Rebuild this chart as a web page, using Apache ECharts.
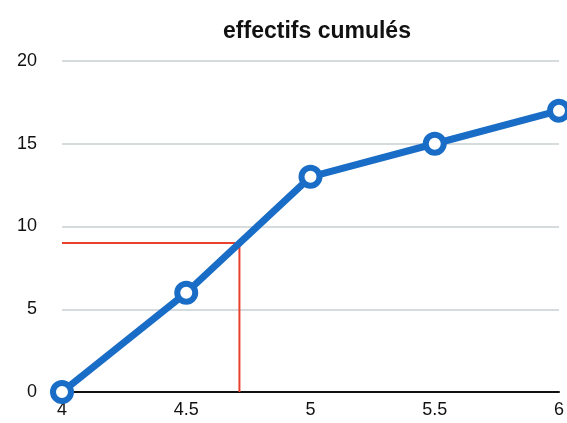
<!DOCTYPE html>
<html>
<head>
<meta charset="utf-8">
<script src="https://cdn.jsdelivr.net/npm/echarts@6/dist/echarts.min.js"></script>
<style>
html,body{margin:0;padding:0;background:#fff;}
#c{width:567px;height:423px;}
</style>
</head>
<body>
<div id="c"></div>
<script>
var xValues = [4, 4.5, 5, 5.5, 6];
var cumul = [0, 6, 13, 15, 17];
var readX = [4, 4.714, 4.714];
var readY = [9, 9, 0];
var titleText = 'effectifs cumulés';

var lineData = xValues.map(function (x, i) { return [x, cumul[i]]; });
var redData = readX.map(function (x, i) { return [x, readY[i]]; });

var font = 'Liberation Sans, Arial, Helvetica, sans-serif';
var chart = echarts.init(document.getElementById('c'));
chart.setOption({
  animation: false,
  title: {
    text: titleText,
    left: 312,
    textAlign: 'center',
    top: 15,
    textStyle: { fontFamily: font, fontSize: 23, fontWeight: 'bold', color: '#111' }
  },
  grid: { left: 62, right: 3, top: 61, bottom: 31, containLabel: false },
  xAxis: {
    type: 'value', min: 4, max: 6, interval: 0.5,
    axisLine: { show: true, lineStyle: { color: '#111', width: 2 } },
    axisTick: { show: false },
    splitLine: { show: false },
    axisLabel: { color: '#111', fontSize: 18, fontFamily: font, margin: 9 }
  },
  yAxis: {
    type: 'value', min: 0, max: 20, interval: 5,
    axisLine: { show: false },
    axisTick: { show: false },
    splitLine: { show: true, lineStyle: { color: '#c8cfd3', width: 1.5 } },
    axisLabel: { color: '#111', fontSize: 18, fontFamily: font, margin: 25 }
  },
  series: [
    {
      type: 'line', data: redData, z: 1, symbol: 'none', clip: false,
      lineStyle: { color: '#e8412c', width: 2 }
    },
    {
      type: 'line', data: lineData, z: 3, clip: false,
      symbol: 'circle', symbolSize: 18,
      lineStyle: { color: '#1a6dc6', width: 7 },
      itemStyle: { color: '#ffffff', borderColor: '#1a6dc6', borderWidth: 6 }
    }
  ]
});
</script>
</body>
</html>
